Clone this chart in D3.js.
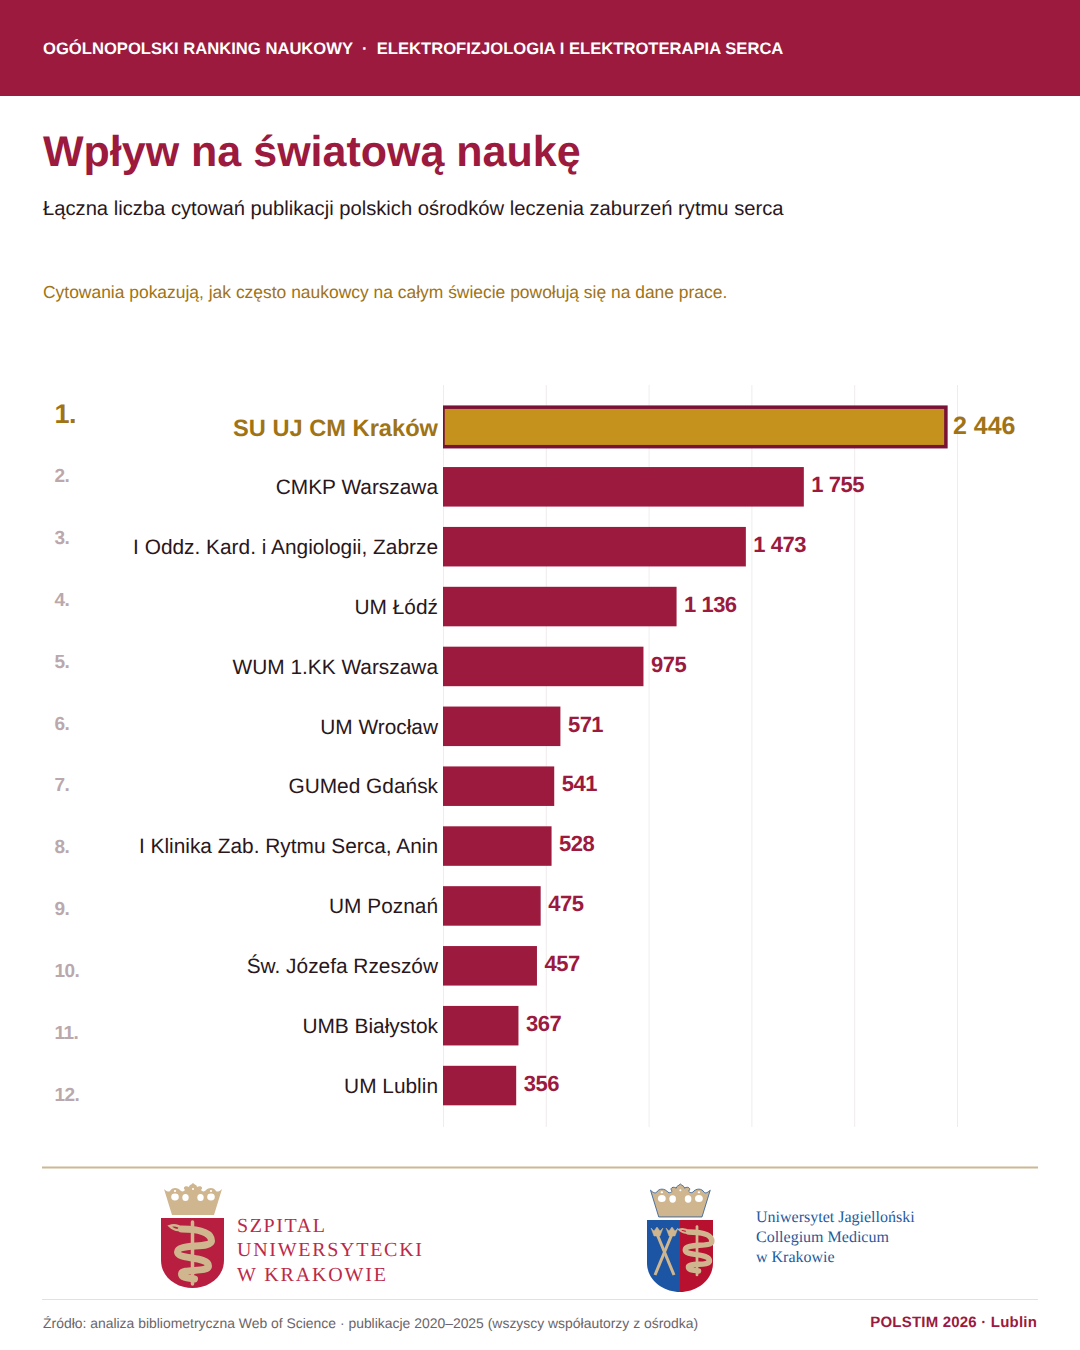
<!DOCTYPE html>
<html lang="pl">
<head>
<meta charset="utf-8">
<title>Wpływ na światową naukę</title>
<script src="https://cdn.jsdelivr.net/npm/d3@7/dist/d3.min.js"></script>
<style>
  html, body { margin: 0; padding: 0; background: #fff; }
  svg { display: block; text-rendering: geometricPrecision; }
  text { font-family: "Liberation Sans", Arial, sans-serif; }
  .serif { font-family: "Liberation Serif", "Times New Roman", serif; }
</style>
</head>
<body>
<svg id="chart" width="1080" height="1350"></svg>
<script>
// Citation totals per centre, in rank order
const centres = [
  "SU UJ CM Kraków", "CMKP Warszawa", "I Oddz. Kard. i Angiologii, Zabrze", "UM Łódź",
  "WUM 1.KK Warszawa", "UM Wrocław", "GUMed Gdańsk", "I Klinika Zab. Rytmu Serca, Anin",
  "UM Poznań", "Św. Józefa Rzeszów", "UMB Białystok", "UM Lublin"
];
const citations = [2446, 1755, 1473, 1136, 975, 571, 541, 528, 475, 457, 367, 356];
const gridValues = [0, 500, 1000, 1500, 2000, 2500];

const CRIMSON = "#9B1A3E", DARK = "#7A1238", GOLD = "#C6921E", GOLD_TEXT = "#A07416",
      INK = "#2A171C", RANK = "#BAA8AD", TAN = "#CFB68E";

const svg = d3.select("#chart");

// Header band and headings
svg.append("rect").attr("width", 1080).attr("height", 96).attr("fill", CRIMSON);
svg.append("text").attr("x", 43).attr("y", 54).attr("fill", "#fff")
  .attr("font-size", 16.62).attr("font-weight", 700).attr("xml:space", "preserve")
  .text("OGÓLNOPOLSKI RANKING NAUKOWY  ·  ELEKTROFIZJOLOGIA I ELEKTROTERAPIA SERCA");
svg.append("text").attr("x", 43).attr("y", 166).attr("fill", CRIMSON)
  .attr("font-size", 43).attr("font-weight", 700).text("Wpływ na światową naukę");
svg.append("text").attr("x", 43).attr("y", 215).attr("fill", INK)
  .attr("font-size", 20.2).text("Łączna liczba cytowań publikacji polskich ośrodków leczenia zaburzeń rytmu serca");
svg.append("text").attr("x", 43).attr("y", 298).attr("fill", GOLD_TEXT)
  .attr("font-size", 17.45).text("Cytowania pokazują, jak często naukowcy na całym świecie powołują się na dane prace.");

// Scales: bars sit on a tighter pitch than the rank column
const x = d3.scaleLinear().domain([0, 2500]).range([443, 957]);
const y = d3.scaleBand().domain(centres).range([397, 1115.5]).paddingInner(0.34).paddingOuter(0.17);
const rankY = d3.scaleBand().domain(centres).range([385, 1127]);

svg.append("g").selectAll("line").data(gridValues).join("line")
  .attr("x1", d => x(d) + 0.5).attr("x2", d => x(d) + 0.5)
  .attr("y1", 385).attr("y2", 1127)
  .attr("stroke", "#F0ECED").attr("stroke-width", 1);

// The highlight outline is cut off at the zero line
svg.append("clipPath").attr("id", "plot-clip").append("rect")
  .attr("x", x(0)).attr("y", 385).attr("width", 600).attr("height", 742);

const rows = svg.append("g").selectAll("g")
  .data(centres.map((name, i) => ({ name, value: citations[i], rank: i + 1 })))
  .join("g");

rows.append("rect")
  .attr("clip-path", "url(#plot-clip)")
  .attr("x", x(0))
  .attr("y", d => y(d.name))
  .attr("width", d => x(d.value) - x(0))
  .attr("height", y.bandwidth())
  .attr("fill", d => d.rank === 1 ? GOLD : CRIMSON)
  .attr("stroke", d => d.rank === 1 ? DARK : "none")
  .attr("stroke-width", 3.5);

rows.append("text")
  .attr("x", 54.5)
  .attr("y", d => rankY(d.name) + rankY.bandwidth() / 2 + (d.rank === 1 ? 7.5 : 4.5))
  .attr("font-size", d => d.rank === 1 ? 27 : 19)
  .attr("font-weight", 700)
  .attr("letter-spacing", -0.6)
  .attr("fill", d => d.rank === 1 ? GOLD_TEXT : RANK)
  .text(d => d.rank + ".");

rows.append("text")
  .attr("x", 438)
  .attr("y", d => y(d.name) + y.bandwidth() / 2 + (d.rank === 1 ? 9.5 : 7.3))
  .attr("text-anchor", "end")
  .attr("font-size", d => d.rank === 1 ? 23.65 : 20.86)
  .attr("font-weight", d => d.rank === 1 ? 700 : 400)
  .attr("fill", d => d.rank === 1 ? GOLD_TEXT : INK)
  .text(d => d.name);

// Thousands separated by a space, Polish style
const fmt = v => d3.format(",")(v).replace(",", " ");
rows.append("text")
  .attr("x", d => x(d.value) + (d.rank === 1 ? 7 : 7.5))
  .attr("y", d => y(d.name) + y.bandwidth() / 2 + (d.rank === 1 ? 7 : 5.3))
  .attr("font-size", d => d.rank === 1 ? 25 : 22)
  .attr("font-weight", 700)
  .attr("letter-spacing", d => d.rank === 1 ? 0 : -0.5)
  .attr("fill", d => d.rank === 1 ? GOLD_TEXT : CRIMSON)
  .text(d => fmt(d.value));

// Footer rules
svg.append("line").attr("x1", 42).attr("x2", 1038).attr("y1", 1167.5).attr("y2", 1167.5)
  .attr("stroke", "#CDB794").attr("stroke-width", 2);
svg.append("line").attr("x1", 42).attr("x2", 1038).attr("y1", 1299.5).attr("y2", 1299.5)
  .attr("stroke", "#E4E0E0").attr("stroke-width", 1);

// Heraldic crown, drawn in a 58 x 32 box
function crown(parent, tx, ty, sx, sy, outline) {
  const g = parent.append("g").attr("transform", `translate(${tx},${ty}) scale(${sx},${sy})`);
  const sil = "M8,32 L0,6 C3,9 5,9 6,8 C8,4 14,4 17,8 C19,9 20,8 21,7 C18,4 22,2 25,4 C25,2 27,2 29,0 " +
              "C31,2 33,2 33,4 C36,2 40,4 37,7 C38,8 39,9 41,8 C44,4 50,4 52,8 C53,9 55,9 58,6 L50,32 Z";
  g.append("path").attr("d", sil).attr("fill", TAN)
    .attr("stroke", outline || "none").attr("stroke-width", outline ? 0.8 : 0);
  const holes = [[11,14,3.8,3.4],[21.5,14.5,3.2,3.6],[36.5,14.5,3.2,3.6],[47,14,3.8,3.4],
                 [11,8,1.2,1],[47,8,1.2,1],[29,6,1,1]];
  g.selectAll("ellipse").data(holes).join("ellipse")
    .attr("cx", d => d[0]).attr("cy", d => d[1]).attr("rx", d => d[2]).attr("ry", d => d[3]).attr("fill", "#fff");
}

// Staff with a serpent winding around it
function aesculapius(parent, tx, ty, s, w) {
  const g = parent.append("g").attr("transform", `translate(${tx},${ty}) scale(${s})`)
    .attr("fill", "none").attr("stroke", TAN).attr("stroke-linecap", "round");
  g.append("path").attr("d", "M0,2 V64").attr("stroke-width", w * 0.5);
  g.append("path").attr("stroke-width", w)
    .attr("d", "M-11,9 C5,9 19,12 19,21 C19,29 -15,23 -15,32 C-15,40 16,36 16,46 C16,53 -11,48 -11,54 C-11,58 -4,58 2,59");
  g.append("path").attr("stroke-width", 2.4).attr("d", "M-23,6 C-18,4 -13,6 -9,9 C-14,11 -19,10 -23,6 Z");
}

// Hospital mark
const left = svg.append("g");
crown(left, 164, 1183, 1, 1);
left.append("path").attr("fill", "#B81E3F")
  .attr("d", "M161,1218 H224 V1260 C224,1278 208,1288 192.5,1288 C177,1288 161,1278 161,1260 Z");
aesculapius(left, 192.5, 1220, 1, 7);
const wordmark = [["SZPITAL", 1232, 88], ["UNIWERSYTECKI", 1256, 185], ["W KRAKOWIE", 1280.5, 149]];
left.selectAll("text").data(wordmark).join("text").attr("class", "serif")
  .attr("x", 237).attr("y", d => d[1]).attr("font-size", 20).attr("fill", "#BC2A48")
  .attr("textLength", d => d[2]).attr("lengthAdjust", "spacing").text(d => d[0]);

// University mark
const right = svg.append("g");
crown(right, 650.5, 1184, 1.03, 1.03, "#2A5A9A");
const shieldPath = "M647,1220 H713 V1263 C713,1280 697,1292 680,1292 C663,1292 647,1280 647,1263 Z";
const clip = right.append("clipPath").attr("id", "shield-clip");
clip.append("path").attr("d", shieldPath);
const halves = right.append("g").attr("clip-path", "url(#shield-clip)");
halves.append("rect").attr("x", 647).attr("y", 1220).attr("width", 33).attr("height", 72).attr("fill", "#1B55A3");
halves.append("rect").attr("x", 680).attr("y", 1220).attr("width", 33).attr("height", 72).attr("fill", "#B8102F");
// Crossed sceptres
const sceptres = right.append("g").attr("stroke", TAN).attr("fill", TAN).attr("stroke-width", 3);
sceptres.append("line").attr("x1", 657).attr("y1", 1234).attr("x2", 674).attr("y2", 1275);
sceptres.append("line").attr("x1", 672).attr("y1", 1234).attr("x2", 655).attr("y2", 1275);
sceptres.selectAll("path").data([657, 672]).join("path")
  .attr("stroke-width", 0.5)
  .attr("d", d => `M${d - 6},1228 L${d - 3},1231 L${d},1227 L${d + 3},1231 L${d + 6},1228 L${d + 3},1236 H${d - 3} Z`);
aesculapius(right, 697, 1225, 0.78, 7);

const uniLines = [["Uniwersytet Jagielloński", 1222], ["Collegium Medicum", 1242], ["w Krakowie", 1262]];
right.selectAll("text").data(uniLines).join("text").attr("class", "serif")
  .attr("x", 756).attr("y", d => d[1]).attr("font-size", 16).attr("fill", "#1F5A9C").text(d => d[0]);

// Source line
svg.append("text").attr("x", 43).attr("y", 1328).attr("fill", "#6B6468").attr("font-size", 13.93)
  .text("Źródło: analiza bibliometryczna Web of Science · publikacje 2020–2025 (wszyscy współautorzy z ośrodka)");
svg.append("text").attr("x", 1037).attr("y", 1327).attr("text-anchor", "end").attr("fill", CRIMSON)
  .attr("font-size", 15).attr("font-weight", 700).attr("letter-spacing", 0.2).text("POLSTIM 2026 · Lublin");
</script>
</body>
</html>
